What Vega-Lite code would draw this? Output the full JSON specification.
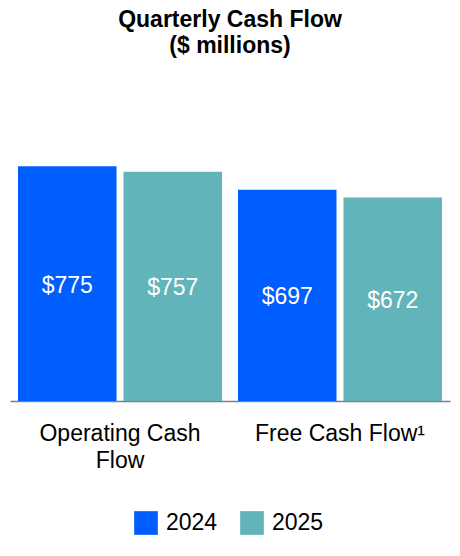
{
  "$schema": "https://vega.github.io/schema/vega-lite/v6.json",
  "autosize": {"type": "none"},
  "width": 440,
  "height": 303,
  "padding": {"left": 10, "top": 98, "right": 10, "bottom": 155},
  "background": "white",
  "config": {
    "font": "Liberation Sans",
    "view": {"stroke": null}
  },
  "title": {
    "text": ["Quarterly Cash Flow", "($ millions)"],
    "fontSize": 23,
    "fontWeight": "bold",
    "font": "Liberation Sans",
    "color": "#000000",
    "lineHeight": 26,
    "anchor": "middle",
    "baseline": "bottom",
    "offset": 17
  },
  "data": {
    "values": [
      {"metric": "Operating Cash Flow", "year": "2024", "value": 775},
      {"metric": "Operating Cash Flow", "year": "2025", "value": 757},
      {"metric": "Free Cash Flow¹", "year": "2024", "value": 697},
      {"metric": "Free Cash Flow¹", "year": "2025", "value": 672}
    ]
  },
  "encoding": {
    "x": {
      "field": "metric",
      "type": "nominal",
      "sort": ["Operating Cash Flow", "Free Cash Flow¹"],
      "scale": {"paddingInner": 0.0727, "paddingOuter": 0.0364},
      "axis": {
        "title": null,
        "labelAngle": 0,
        "ticks": false,
        "domainColor": "#7f7f7f",
        "domainWidth": 1.5,
        "labelFontSize": 23,
        "labelColor": "#000000",
        "labelFont": "Liberation Sans",
        "labelPadding": 21,
        "labelLineHeight": 27,
        "labelLimit": 400,
        "labelExpr": "datum.value == 'Operating Cash Flow' ? ['Operating Cash', 'Flow'] : datum.value"
      }
    },
    "xOffset": {
      "field": "year",
      "type": "nominal",
      "scale": {"paddingInner": 0.066, "paddingOuter": 0}
    }
  },
  "layer": [
    {
      "mark": {"type": "bar"},
      "encoding": {
        "y": {
          "field": "value",
          "type": "quantitative",
          "scale": {"domain": [0, 1000], "nice": false},
          "axis": null
        },
        "color": {
          "field": "year",
          "type": "nominal",
          "scale": {"domain": ["2024", "2025"], "range": ["#005EFF", "#61B4B9"]},
          "legend": {
            "title": null,
            "orient": "none",
            "direction": "horizontal",
            "legendX": 124,
            "legendY": 413,
            "symbolType": "square",
            "symbolSize": 560,
            "symbolStrokeWidth": 0,
            "labelFontSize": 23,
            "labelFont": "Liberation Sans",
            "labelColor": "#000000",
            "labelOffset": 8,
            "columnPadding": 22,
            "padding": 0
          }
        }
      }
    },
    {
      "mark": {"type": "text", "color": "white", "fontSize": 23, "baseline": "middle", "dy": 2},
      "encoding": {
        "y": {
          "field": "value",
          "type": "quantitative",
          "scale": {"domain": [0, 2000], "nice": false},
          "axis": null
        },
        "text": {"field": "value", "type": "quantitative", "format": "$d"}
      }
    }
  ],
  "resolve": {"scale": {"y": "independent"}}
}
